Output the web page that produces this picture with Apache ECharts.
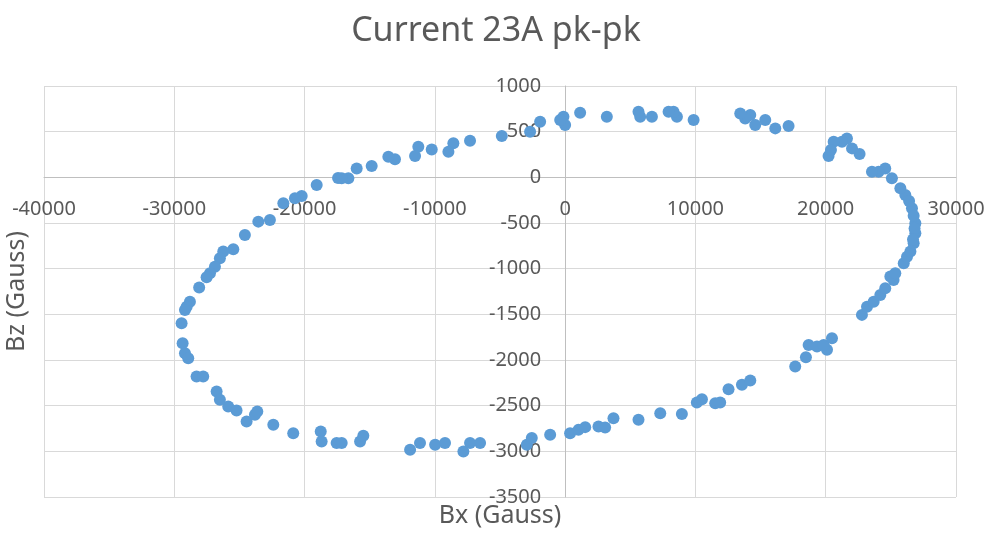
<!DOCTYPE html>
<html>
<head>
<meta charset="utf-8">
<script src="https://cdn.jsdelivr.net/npm/echarts@6/dist/echarts.min.js"></script>
<style>html,body{margin:0;padding:0;background:#fff}#c{width:992px;height:534px}</style>
</head>
<body>
<div id="c"></div>
<script>
var titleText = 'Current 23A pk-pk';
var xName = 'Bx (Gauss)';
var yName = 'Bz (Gauss)';
var xTicks = [-40000, -30000, -20000, -10000, 0, 10000, 20000, 30000];
var yTicks = [-3500, -3000, -2500, -2000, -1500, -1000, -500, 0, 500, 1000];
var bxValues = [-17430,-19070,-20220,-20740,-21630,-22660,-23550,-24580,-25470,-26240,-26500,-26880,-27260,-27520,-28090,-28800,-29050,-29180,-29440,-29360,-29180,-28930,-28290,-27780,-26750,-26500,-25860,-25220,-24450,-23810,-23630,-22400,-20870,-18760,-18690,-17540,-17150,-15740,-15490,-11900,-11140,-9980,-9220,-7810,-7300,-6530,-2940,-2560,-1150,380,1020,1540,2560,3070,3710,5630,7300,8960,10110,10500,11520,11900,12540,13570,14210,17660,18480,18690,19330,20100,19840,20480,22780,23170,23680,24190,24570,25210,24960,25340,25990,26240,26500,26750,26880,26880,26620,26110,25730,25080,24570,24060,23550,22600,22020,21630,21250,20610,20220,17150,16130,15360,14590,14210,13820,13440,9860,8580,8320,7940,6660,5760,5630,3200,1150,0,-130,-380,-1920,-2690,-4860,-7300,-8580,-8960,-10240,-11270,-11520,-13060,-13570,-14850,-16000,-16640,-17150,26750,26820,26700,20400,26400];
var bzValues = [-8,-84,-205,-230,-285,-467,-485,-631,-788,-813,-886,-978,-1050,-1094,-1205,-1361,-1416,-1452,-1597,-1816,-1925,-1980,-2181,-2181,-2346,-2436,-2510,-2553,-2674,-2600,-2564,-2710,-2801,-2783,-2893,-2910,-2910,-2893,-2830,-2983,-2910,-2929,-2910,-3002,-2910,-2910,-2929,-2855,-2819,-2801,-2765,-2735,-2728,-2739,-2637,-2655,-2582,-2590,-2466,-2429,-2473,-2466,-2319,-2272,-2225,-2072,-1969,-1835,-1853,-1889,-1835,-1761,-1506,-1416,-1361,-1288,-1214,-1124,-1087,-1050,-941,-869,-813,-722,-613,-503,-339,-194,-120,-11,98,61,61,255,317,426,389,389,233,561,536,627,572,682,645,700,627,663,718,718,663,663,718,663,707,572,663,627,608,499,452,400,372,280,306,335,233,197,226,124,98,-11,-11,-420,-560,-680,300,-260];

var points = bxValues.map(function (x, i) { return [x, bzValues[i]]; });
var font = '"Noto Sans", "Open Sans", sans-serif';
var plain = function (v) { return String(v); };
// grid geometry
var gLeft = 44, gRight = 36, gTop = 86, gBottom = 37, W = 992, H = 534;
var gW = W - gLeft - gRight, gH = H - gTop - gBottom;
var xMin = xTicks[0], xMax = xTicks[xTicks.length - 1];
var yMin = yTicks[0], yMax = yTicks[yTicks.length - 1];
// offsets that place each axis line at the other axis's zero
var xAxisOffset = -gH * (0 - yMin) / (yMax - yMin);
var yAxisOffset = -gW * (0 - xMin) / (xMax - xMin);

var chart = echarts.init(document.getElementById('c'));
chart.setOption({
  animation: false,
  title: {
    text: titleText, left: 'center', top: 9,
    textStyle: { fontFamily: font, fontSize: 34, fontWeight: 'normal', color: '#595959' }
  },
  grid: { left: gLeft, right: gRight, top: gTop, bottom: gBottom, containLabel: false, outerBoundsMode: 'none' },
  xAxis: {
    type: 'value', min: xMin, max: xMax, interval: 10000, offset: xAxisOffset,
    name: xName, nameLocation: 'middle', nameGap: 326,
    nameTextStyle: { fontFamily: font, fontSize: 25, color: '#595959' },
    axisLine: { show: true, onZero: false, lineStyle: { color: '#bfbfbf', width: 1 } },
    axisTick: { show: false },
    axisLabel: { margin: 22, fontFamily: font, fontSize: 20, color: '#595959', formatter: plain, showMinLabel: true, showMaxLabel: true },
    splitLine: { show: true, lineStyle: { color: '#d9d9d9', width: 1 } }
  },
  yAxis: {
    type: 'value', min: yMin, max: yMax, interval: 500, offset: yAxisOffset,
    name: yName, nameLocation: 'middle', nameGap: 536, nameRotate: 90,
    nameTextStyle: { fontFamily: font, fontSize: 25, color: '#595959' },
    axisLine: { show: true, onZero: false, lineStyle: { color: '#bfbfbf', width: 1 } },
    axisTick: { show: false },
    axisLabel: { margin: 24, fontFamily: font, fontSize: 20, color: '#595959', formatter: plain, showMinLabel: true, showMaxLabel: true },
    splitLine: { show: true, lineStyle: { color: '#d9d9d9', width: 1 } }
  },
  series: [{
    type: 'scatter', data: points, symbol: 'circle', symbolSize: 12,
    itemStyle: { color: '#5b9bd5', opacity: 1 }
  }]
});
</script>
</body>
</html>
